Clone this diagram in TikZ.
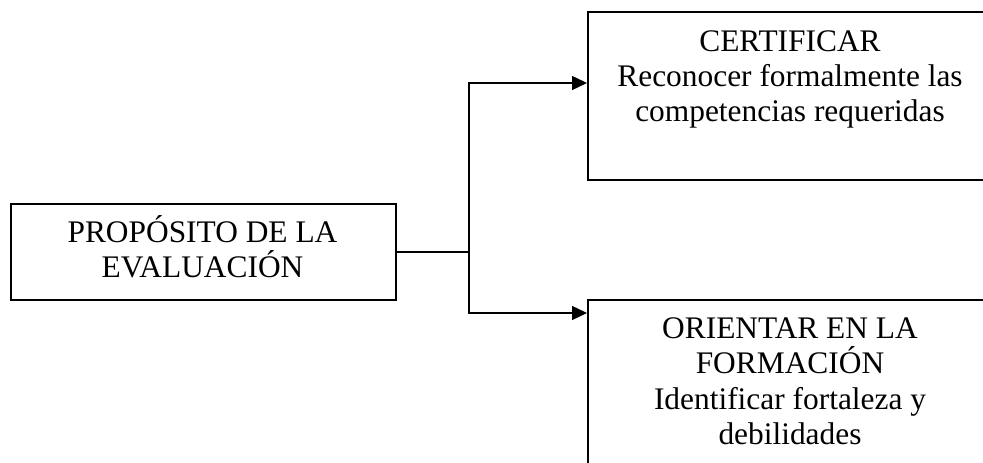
\documentclass[tikz,border=0pt]{standalone}
\usepackage{fontspec}
\setmainfont{Liberation Serif}
\usetikzlibrary{arrows.meta,calc}
\tikzset{
  box/.style={draw, line width=2bp, rectangle, inner sep=0pt, anchor=north west},
  boxtext/.style={align=center, inner sep=0pt, anchor=base, font=\fontsize{31.4bp}{35bp}\selectfont},
  conn/.style={line width=1.4bp},
  arr/.style={conn, -{Triangle[length=15bp,width=14bp]}}
}
\begin{document}
\begin{tikzpicture}[x=1bp,y=-1bp]
\useasboundingbox (0,0) rectangle (983,463);
\clip (0,0) rectangle (983,463);
% source box
\node[box, minimum width=385bp, minimum height=96bp] (src) at (10,203) {};
\node[boxtext] (srct) at (202.5,278) {PROPÓSITO DE LA\\EVALUACIÓN};
% target boxes (run past the right and bottom edges)
\node[box, minimum width=406bp, minimum height=168bp] (cert) at (587,11) {};
\node[boxtext] (certt) at (790,122) {CERTIFICAR\\Reconocer formalmente las\\competencias requeridas};
\node[box, minimum width=406bp, minimum height=180bp] (orient) at (587,299) {};
\node[boxtext] (orientt) at (790,444) {ORIENTAR EN LA\\FORMACIÓN\\Identificar fortaleza y\\debilidades};
% connectors
\coordinate (j) at ($(src.east)+(72,0)$);
\coordinate (cin) at ($(cert.north west)+(0,72)$);
\coordinate (oin) at ($(orient.north west)+(0,14)$);
\draw[conn] (src.east) -- (j);
\draw[arr] (j) |- (cin);
\draw[arr] (j) |- (oin);
\end{tikzpicture}
\end{document}
